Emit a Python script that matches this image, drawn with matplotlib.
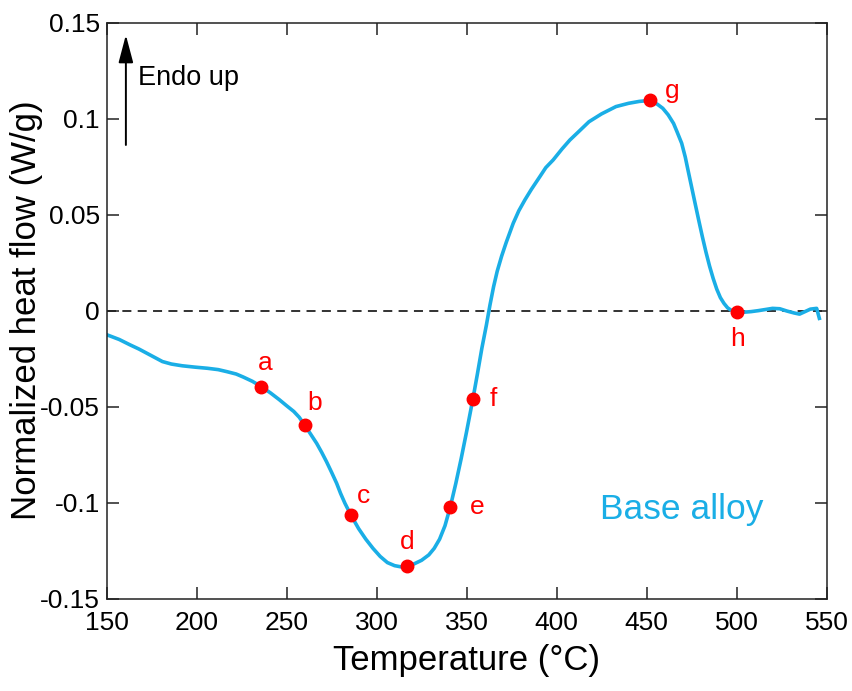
import matplotlib
matplotlib.use('Agg')
from matplotlib import pyplot as plt
import numpy as np

plt.rcParams['font.family'] = ['Liberation Sans', 'DejaVu Sans']

# DSC curve of the base alloy
temperature = [150, 157, 163, 168, 172, 177, 181, 186, 192, 199,
               206, 212, 217, 222, 226, 231, 236, 241, 246, 250,
               254, 257, 260, 263, 266.7, 269.5, 272.2, 275, 277.8, 280,
               282.4, 285.7, 290, 294, 298, 302, 306, 310, 314, 317,
               321, 325, 329, 332, 335, 338, 341, 344, 347, 350,
               353.5, 356, 358.5, 361, 363, 365, 367, 369.5, 372, 375.9,
               379, 382.4, 386, 390.7, 394, 398.1, 403, 407.4, 412,
               418, 425, 433, 440, 446, 452, 456, 459, 462, 465,
               467, 469.5, 471.5, 473, 475, 477, 479, 481, 483, 485,
               487, 489, 491, 493, 495, 497, 500, 504, 508, 512,
               516, 520, 524, 528, 532, 535, 538, 541, 544.5, 546]
heat_flow = [-0.0125, -0.015, -0.0178, -0.020, -0.022, -0.0245, -0.0265, -0.0278, -0.0287, -0.0294,
             -0.030, -0.0307, -0.0318, -0.033, -0.0346, -0.0368, -0.0396, -0.0428, -0.0464, -0.0495,
             -0.0525, -0.0555, -0.0595, -0.0638, -0.0691, -0.0738, -0.0787, -0.0842, -0.0899, -0.0952,
             -0.1003, -0.1064, -0.1135, -0.119, -0.1238, -0.128, -0.1312, -0.1328, -0.1335, -0.133,
             -0.1318, -0.130, -0.1272, -0.1238, -0.119, -0.112, -0.102, -0.090, -0.077, -0.063,
             -0.046, -0.033, -0.0195, -0.0075, 0.003, 0.0125, 0.0205, 0.0285, 0.0355, 0.0455,
             0.052, 0.0577, 0.0632, 0.0698, 0.0745, 0.0785, 0.0842, 0.0889, 0.093,
             0.0984, 0.1025, 0.1063, 0.108, 0.109, 0.1095, 0.1075, 0.1054, 0.102, 0.0975,
             0.093, 0.0872, 0.080, 0.0733, 0.0645, 0.0557, 0.047, 0.0385, 0.0305, 0.0232,
             0.0168, 0.0112, 0.0068, 0.0038, 0.0015, 0.0002, -0.0005, -0.0008, -0.0005, 0.0,
             0.0006, 0.0012, 0.001, -0.0002, -0.0012, -0.0018, -0.0005, 0.0008, 0.0012, -0.004]

# marked states a-h
point_labels = ['a', 'b', 'c', 'd', 'e', 'f', 'g', 'h']
point_temps = [236, 260, 285.7, 317, 341, 353.5, 452, 500]
point_flow = [-0.0396, -0.0595, -0.1064, -0.133, -0.102, -0.046, 0.1095, -0.0005]
# label offsets in points (dx, dy)
label_offsets = [(3, 17), (7, 16), (9, 14), (0, 17), (19, 0), (15, 0), (16, 7), (1, -20)]

blue = '#1AAEE6'
red = '#FF0000'

fig = plt.figure(figsize=(8.53, 6.91), dpi=100)
ax = fig.add_axes([0.125, 0.1336, 0.844, 0.8336])

ax.axhline(0, color='#222222', lw=1.3, ls=(0, (5, 3.5)), zorder=1)
ax.plot(temperature, heat_flow, color=blue, lw=2.6, zorder=2, solid_joinstyle='round')
ax.plot(point_temps, point_flow, 'o', color=red, ms=9, zorder=3)
for lab, t, v, off in zip(point_labels, point_temps, point_flow, label_offsets):
    ax.annotate(lab, (t, v), xytext=off, textcoords='offset points',
                ha='center', va='center', color=red, fontsize=19)

ax.annotate('', xy=(160.7, 0.1436), xytext=(160.7, 0.0863),
            arrowprops=dict(arrowstyle='-|>,head_width=0.45,head_length=1.7', color='black',
                            lw=1.4, shrinkA=0, shrinkB=0))
ax.text(167.4, 0.1212, 'Endo up', fontsize=19.5, va='center', ha='left')
ax.text(424, -0.1036, 'Base alloy', fontsize=25.5, color=blue, va='center', ha='left')

ax.set_xlim(150, 550)
ax.set_ylim(-0.15, 0.15)
ax.set_xticks(np.arange(150, 551, 50))
ax.set_yticks([-0.15, -0.1, -0.05, 0, 0.05, 0.1, 0.15])
ax.set_yticklabels(['-0.15', '-0.1', '-0.05', '0', '0.05', '0.1', '0.15'])
ax.tick_params(direction='in', length=8.5, width=1.1, labelsize=19,
               top=True, right=True, colors='#222222', labelcolor='black')
ax.tick_params(axis='x', pad=9)
ax.tick_params(axis='y', pad=5)
for s in ax.spines.values():
    s.set_linewidth(1.1)
    s.set_color('#222222')

ax.set_xlabel('Temperature (°C)', fontsize=25)
ax.set_ylabel('Normalized heat flow (W/g)', fontsize=25)
ax.xaxis.set_label_coords(0.5, -0.078)
ax.yaxis.set_label_coords(-0.088, 0.5)

fig.savefig('out.png', dpi=100)
